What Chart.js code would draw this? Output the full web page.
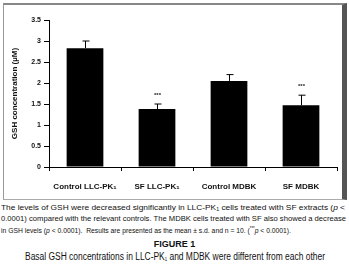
<!DOCTYPE html>
<html>
  <head>
    <meta charset = "utf-8">
    <title>GSH concentration</title>
    <script src="https://cdn.jsdelivr.net/npm/chart.js@4.4.1/dist/chart.umd.min.js"></script>
    <style>
      body { margin: 0; background: #fff; width: 349px; height: 264px; overflow: hidden; position: relative; font-family: "Liberation Sans", Arial, sans-serif; }
      #box { position: absolute; left: 3px; top: 3px; width: 338px; height: 194px; border-left: 1px solid #999; border-top: 2px solid #888; border-bottom: 1px solid #aaa; border-right: 5px solid #555; }
      #chart { position: absolute; left: 0; top: 0; }
      .line { position: absolute; left: 1px; white-space: nowrap; font-size: 8px; color: #111; transform-origin: left top; }
      .center { position: absolute; left: 0; width: 349px; text-align: center; white-space: nowrap; color: #111; }
      sub { font-size: 5px; vertical-align: -1px; }
      sup { font-size: 5px; vertical-align: 3px; }
    </style>
  </head>
  <body>
    <div id="box"></div>
    <canvas id="chart" width="349" height="200"></canvas>

    <div class="line" data-w="344" style="top:203px">The levels of GSH were decreased significantly in LLC-PK<sub>1</sub> cells treated with SF extracts (<i>p</i> &lt;</div>
    <div class="line" data-w="345" style="top:214px">0.0001) compared with the relevant controls. The MDBK cells treated with SF also showed a decrease</div>
    <div class="line" data-w="290" style="top:225px">in GSH levels (<i>p</i> &lt; 0.0001).&nbsp; Results are presented as the mean ± s.d. and n = 10. (<sup>***</sup><i>p</i> &lt; 0.0001).</div>
    <div class="center" style="top:239px; font-size:9px; font-weight:bold;">FIGURE 1</div>
    <div class="line" data-w="300" style="top:251px; left:25px; font-size:10px;">Basal GSH concentrations in LLC-PK<sub>1</sub> and MDBK were different from each other</div>

    <script>
      const categories = ['Control LLC-PK\u2081', 'SF LLC-PK\u2081', 'Control MDBK', 'SF MDBK'];
      const gshValues = [2.83, 1.38, 2.05, 1.47];
      const gshErrors = [0.17, 0.12, 0.15, 0.24];
      const stars = ['', '***', '', '***'];
      const yTicks = ['0', '0.5', '1', '1.5', '2', '2.5', '3', '3.5'];

      // fit caption lines to their widths
      document.querySelectorAll('.line').forEach(el => {
        const w = el.getBoundingClientRect().width;
        el.style.transform = 'scaleX(' + (el.dataset.w / w) + ')';
      });

      // draws the upward error bars and the significance stars
      const errorBars = {
        id: 'errorBars',
        afterDatasetsDraw(chart) {
          const ctx = chart.ctx;
          const y = chart.scales.y;
          const meta = chart.getDatasetMeta(0);
          ctx.save();
          ctx.strokeStyle = '#000';
          ctx.lineWidth = 1;
          meta.data.forEach((bar, i) => {
            const x = Math.round(bar.x) + 0.5;
            const top = y.getPixelForValue(gshValues[i] + gshErrors[i]);
            const base = y.getPixelForValue(gshValues[i]);
            ctx.beginPath();
            ctx.moveTo(x, base);
            ctx.lineTo(x, top);
            ctx.moveTo(x - 3, top);
            ctx.lineTo(x + 4, top);
            ctx.stroke();
            if (stars[i]) {
              ctx.fillStyle = '#222';
              ctx.font = 'bold 6px "Liberation Sans", Arial';
              ctx.textAlign = 'center';
              ctx.fillText(stars[i], x, top - 7);
            }
          });
          ctx.restore();
        }
      };

      new Chart(document.getElementById('chart'), {
        type: 'bar',
        data: {
          labels: categories,
          datasets: [{
            data: gshValues,
            backgroundColor: '#000',
            borderColor: '#000',
            borderWidth: 0,
            categoryPercentage: 1,
            barPercentage: 0.51
          }]
        },
        options: {
          responsive: false,
          animation: false,
          devicePixelRatio: 1,
          layout: { padding: { left: 0, top: 20, right: 12, bottom: 0 } },
          plugins: { legend: { display: false }, tooltip: { enabled: false } },
          scales: {
            x: {
              afterFit: s => { s.height = 33; },
              grid: { offset: true, drawOnChartArea: false, tickLength: 4, color: '#000' },
              border: { color: '#000' },
              ticks: { color: '#111', padding: 11, maxRotation: 0, font: { family: 'Liberation Sans', size: 8, weight: 'bold' } }
            },
            y: {
              min: 0,
              max: 3.5,
              afterFit: s => { s.width = 49; },
              afterBuildTicks: s => { s.ticks = yTicks.map(t => ({ value: parseFloat(t) })); },
              grid: { drawOnChartArea: false, tickLength: 5, color: '#000' },
              border: { color: '#000' },
              ticks: {
                color: '#111', padding: 3,
                font: { family: 'Liberation Sans', size: 7, weight: 'bold' },
                callback: (v, i) => yTicks[i]
              },
              title: { display: true, text: 'GSH concentration (\u00b5M)', color: '#111', padding: { top: 10, bottom: 0 }, font: { family: 'Liberation Sans', size: 8, weight: 'bold' } }
            }
          }
        },
        plugins: [errorBars]
      });
    </script>
  </body>
</html>
